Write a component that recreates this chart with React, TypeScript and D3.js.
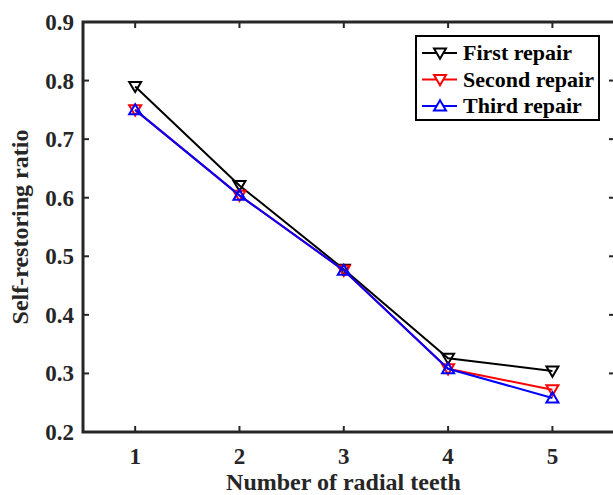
import React from "react";
import * as d3 from "d3";

const teeth = [1, 2, 3, 4, 5];
const firstRepair = [0.79, 0.621, 0.478, 0.326, 0.304];
const secondRepair = [0.75, 0.604, 0.476, 0.308, 0.272];
const thirdRepair = [0.75, 0.604, 0.476, 0.308, 0.258];
const yTicks = [0.2, 0.3, 0.4, 0.5, 0.6, 0.7, 0.8, 0.9];

const series = [
  { name: "First repair", values: firstRepair, color: "#000000", down: true },
  { name: "Second repair", values: secondRepair, color: "#ff0000", down: true },
  { name: "Third repair", values: thirdRepair, color: "#0000ff", down: false },
];

const W = 613;
const H = 495;
const LEFT = 83;
const RIGHT = 615;
const TOP = 22;
const BOTTOM = 432;
const AXIS = "#262626";
const FONT = "'Liberation Serif', 'Times New Roman', serif";

const tri = (cx: number, cy: number, down: boolean, r = 6) => {
  const s = down ? 1 : -1;
  return `M${cx - r},${cy - s * r * 0.75} L${cx + r},${cy - s * r * 0.75} L${cx},${cy + s * r * 0.95} Z`;
};

const App = () => {
  const x = d3.scaleLinear().domain([0.5, 5.6]).range([LEFT, RIGHT]);
  const y = d3.scaleLinear().domain([0.2, 0.9]).range([BOTTOM, TOP]);
  const line = d3
    .line<number>()
    .x((d, i) => x(teeth[i]))
    .y((d) => y(d));

  return (
    <svg width={W} height={H} style={{ position: "absolute", left: 0, top: 0 }}>
      <rect width={W} height={H} fill="#fff" />
      {/* ticks */}
      {teeth.map((t) => (
        <g key={"xt" + t}>
          <line x1={x(t)} x2={x(t)} y1={BOTTOM} y2={BOTTOM - 6} stroke={AXIS} strokeWidth={2} />
          <line x1={x(t)} x2={x(t)} y1={TOP} y2={TOP + 6} stroke={AXIS} strokeWidth={2} />
          <text
            x={x(t)}
            y={464}
            textAnchor="middle"
            fontFamily={FONT}
            fontWeight="bold"
            fontSize={23}
            fill={AXIS}
          >
            {t}
          </text>
        </g>
      ))}
      {yTicks.map((v) => (
        <g key={"yt" + v}>
          <line x1={LEFT} x2={LEFT + 6} y1={y(v)} y2={y(v)} stroke={AXIS} strokeWidth={2} />
          <line x1={RIGHT} x2={RIGHT - 6} y1={y(v)} y2={y(v)} stroke={AXIS} strokeWidth={2} />
          <text
            x={74}
            y={y(v)}
            dy="0.35em"
            textAnchor="end"
            fontFamily={FONT}
            fontWeight="bold"
            fontSize={23}
            fill={AXIS}
          >
            {d3.format(".1f")(v)}
          </text>
        </g>
      ))}
      {/* axes box */}
      <rect
        x={LEFT}
        y={TOP}
        width={RIGHT - LEFT}
        height={BOTTOM - TOP}
        fill="none"
        stroke={AXIS}
        strokeWidth={3}
      />
      {/* series */}
      {series.map((s) => (
        <g key={s.name}>
          <path d={line(s.values) || ""} fill="none" stroke={s.color} strokeWidth={2} />
          {s.values.map((v, i) => (
            <path
              key={i}
              d={tri(x(teeth[i]), y(v), s.down)}
              fill="none"
              stroke={s.color}
              strokeWidth={2}
            />
          ))}
        </g>
      ))}
      {/* legend */}
      <rect x={416} y={36} width={183} height={84} fill="#fff" stroke="#000" strokeWidth={2} />
      {series.map((s, i) => {
        const ly = 53 + i * 26.5;
        return (
          <g key={"lg" + s.name}>
            <line x1={422} x2={457} y1={ly} y2={ly} stroke={s.color} strokeWidth={2} />
            <path d={tri(440, ly, s.down)} fill="#fff" stroke={s.color} strokeWidth={2} />
            <text
              x={463}
              y={ly}
              dy="0.33em"
              fontFamily={FONT}
              fontWeight="bold"
              fontSize={22}
              fill="#000"
            >
              {s.name}
            </text>
          </g>
        );
      })}
      {/* axis labels */}
      <text
        x={(LEFT + 604) / 2}
        y={490}
        textAnchor="middle"
        fontFamily={FONT}
        fontWeight="bold"
        fontSize={24}
        fill={AXIS}
      >
        Number of radial teeth
      </text>
      <text
        transform={`translate(28, ${(TOP + BOTTOM) / 2}) rotate(-90)`}
        textAnchor="middle"
        fontFamily={FONT}
        fontWeight="bold"
        fontSize={24}
        fill={AXIS}
      >
        Self-restoring ratio
      </text>
    </svg>
  );
};

export default App;
